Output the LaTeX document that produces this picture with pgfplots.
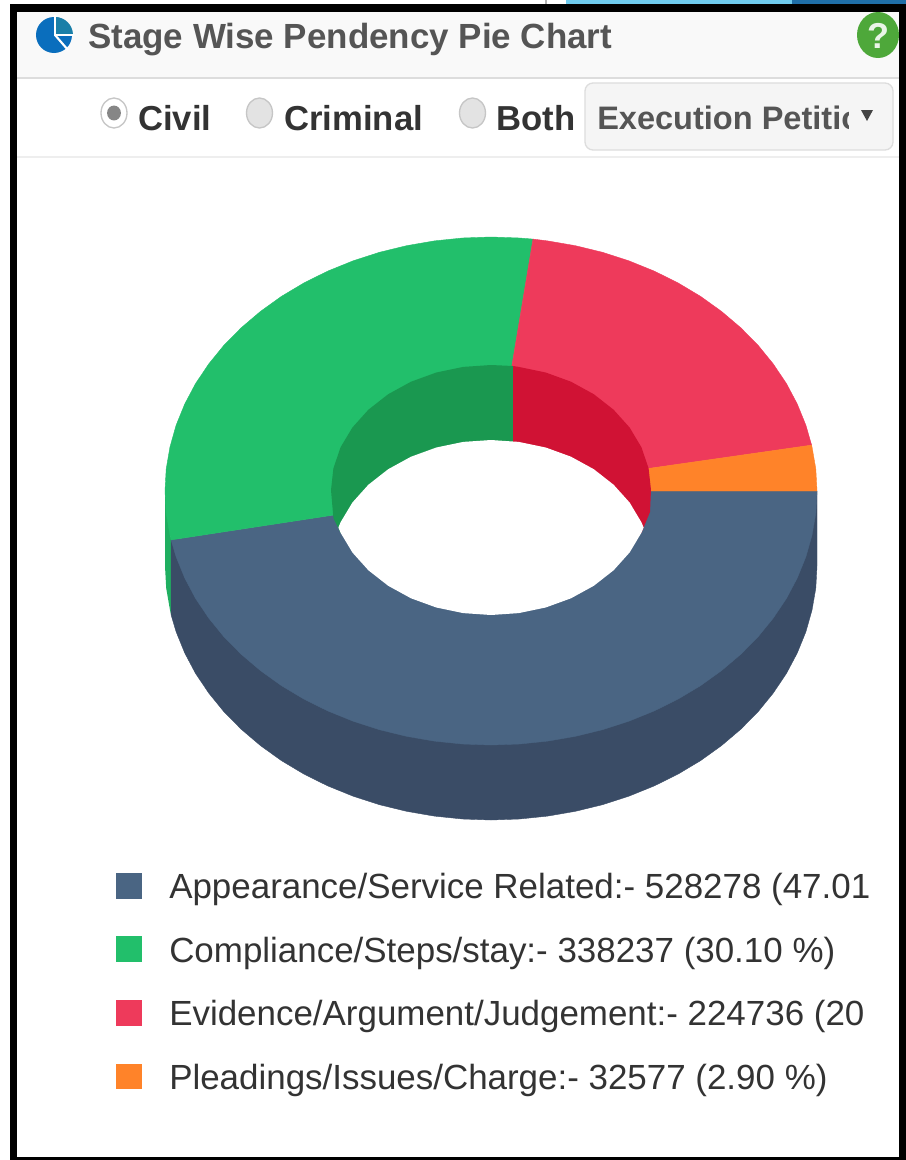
\documentclass[border=0pt]{standalone}
\usepackage{fontspec}
\setmainfont{Liberation Sans}
\usepackage{pgfplots}
\pgfplotsset{compat=1.18}
\definecolor{cblue}{HTML}{4A6583}
\definecolor{cbluew}{HTML}{3A4C66}
\definecolor{cgreen}{HTML}{22BF6B}
\definecolor{cgreenw}{HTML}{1A9850}
\definecolor{cred}{HTML}{EE3A5B}
\definecolor{credw}{HTML}{D01234}
\definecolor{corange}{HTML}{FF8329}
\definecolor{ctxt}{HTML}{333333}
\definecolor{ctitle}{HTML}{555555}
\definecolor{stripa}{HTML}{6FCBEE}
\definecolor{stripb}{HTML}{1F6FA8}
\definecolor{headbg}{HTML}{F9F9F9}
\definecolor{linea}{HTML}{DDDDDD}
\definecolor{lineb}{HTML}{EEEEEE}
\definecolor{iconblue}{HTML}{0A6EBD}
\definecolor{iconteal}{HTML}{1A7FA8}
\definecolor{helpgreen}{HTML}{4EA83A}
\definecolor{dropbg}{HTML}{F5F5F5}
\definecolor{arrowc}{HTML}{444444}
\newcommand{\fs}[1]{\fontsize{#1}{#1}\selectfont}
\tikzset{
  lt/.style={anchor=base west, inner sep=0pt, text=ctxt, font=\fs{26.2}},
  rd/.style={draw=gray!45, fill=gray!22, line width=1pt},
  rt/.style={anchor=base west, inner sep=0pt, text=ctxt, font=\bfseries\fs{26}},
}
\begin{document}
\begin{tikzpicture}
\begin{axis}[
  scale only axis, width=679.5pt, height=870pt,
  xmin=0, xmax=906, ymin=0, ymax=1160, y dir=reverse,
  hide axis, clip=false,
  every axis plot/.append style={forget plot, mark=none},
]
% page furniture
\fill[white] (axis cs:0,0) rectangle (axis cs:906,1160);
\fill[gray!60] (axis cs:545,0) rectangle (axis cs:547,4);
\fill[stripa] (axis cs:566,0) rectangle (axis cs:792,4);
\fill[stripb] (axis cs:792,0) rectangle (axis cs:906,4);
\fill[headbg] (axis cs:17,12) rectangle (axis cs:899,78);
\draw[linea, line width=1pt] (axis cs:17,78) -- (axis cs:899,78);
\draw[lineb, line width=1pt] (axis cs:17,157) -- (axis cs:899,157);

% side wall
\addplot[fill=cgreenw!40!cgreen, draw=none] coordinates {(171.1,539.9)(171.1,614.9)(170,610.1)(166.2,588.1)(165,566)(165,491)} -- cycle;
\addplot[fill=cbluew, draw=cbluew, line width=0.3pt] coordinates {
(817,491)(817,566)(815.8,588.1)(812,610.1)(805.9,631.7)(797.3,652.9)(786.5,673.3)(773.3,693)(758.1,711.7)(740.7,729.3)(721.5,745.6)(700.6,760.6)(678,774.1)(654,786)(628.8,796.2)(602.5,804.7)(575.4,811.3)(547.6,816.1)(519.4,819)(491,820)(462.6,819)(434.4,816.1)(406.6,811.3)(379.5,804.7)(353.2,796.2)(328,786)(304,774.1)(281.4,760.6)(260.5,745.6)(241.3,729.3)(223.9,711.7)(208.7,693)(195.5,673.3)(184.7,652.9)(176.1,631.7)(171.1,614.9)(171.1,539.9)} -- cycle;

% top surface: 528278
\addplot[fill=cblue, draw=cblue, line width=0.3pt] coordinates {
(491,491)(817,491)(815.8,513.1)(812,535.1)(805.9,556.7)(797.3,577.9)(786.5,598.3)(773.3,618)(758.1,636.7)(740.7,654.3)(721.5,670.6)(700.6,685.6)(678,699.1)(654,711)(628.8,721.2)(602.5,729.7)(575.4,736.3)(547.6,741.1)(519.4,744)(491,745)(462.6,744)(434.4,741.1)(406.6,736.3)(379.5,729.7)(353.2,721.2)(328,711)(304,699.1)(281.4,685.6)(260.5,670.6)(241.3,654.3)(223.9,636.7)(208.7,618)(195.5,598.3)(184.7,577.9)(176.1,556.7)(171.1,539.9)} -- cycle;
% 338237
\addplot[fill=cgreen, draw=cgreen, line width=0.3pt] coordinates {
(491,491)(171.1,539.9)(170,535.1)(166.2,513.1)(165,491)(166.2,468.9)(170,446.9)(176.1,425.3)(184.7,404.1)(195.5,383.7)(208.7,364)(223.9,345.3)(241.3,327.7)(260.5,311.4)(281.4,296.4)(304,282.9)(328,271)(353.2,260.8)(379.5,252.3)(406.6,245.7)(434.4,240.9)(462.6,238)(491,237)(519.4,238)(533,239.1)} -- cycle;
% 224736
\addplot[fill=cred, draw=cred, line width=0.3pt] coordinates {
(491,491)(533,239.1)(547.6,240.9)(575.4,245.7)(602.5,252.3)(628.8,260.8)(654,271)(678,282.9)(700.6,296.4)(721.5,311.4)(740.7,327.7)(758.1,345.3)(773.3,364)(786.5,383.7)(797.3,404.1)(805.9,425.3)(811.6,445.1)} -- cycle;
% 32577
\addplot[fill=corange, draw=corange, line width=0.3pt] coordinates {
(491,491)(811.6,445.1)(812,446.9)(815.8,468.9)(817,491)} -- cycle;

% inner wall
\addplot[fill=cgreenw, draw=none] coordinates {
(513,366)(491,365)(463.2,366.9)(436.3,372.5)(411,381.7)(388.2,394.2)(368.4,409.7)(352.4,427.5)(340.6,447.2)(333.4,468.3)(331,490)(333.4,518)(340.6,532.8)(491,600)(513,450)} -- cycle;
\addplot[fill=credw, draw=none] coordinates {
(513,366)(518.8,366.9)(545.7,372.5)(571,381.7)(593.8,394.2)(613.6,409.7)(629.6,427.5)(641.4,447.2)(648.6,468.3)(651,490)(650,512)(641.4,532.8)(491,600)(513,450)} -- cycle;
% hole
\addplot[fill=white, draw=none] coordinates {
(338.4,527.5)(340.6,522.2)(352.4,502.5)(368.4,484.7)(388.2,469.2)(411,456.7)(436.3,447.5)(463.2,441.9)(491,440)(518.8,441.9)(545.7,447.5)(571,456.7)(593.8,469.2)(613.6,484.7)(629.6,502.5)(641.4,522.2)(643.6,527.5)(641.4,532.8)(629.6,552.5)(613.6,570.3)(593.8,585.8)(571,598.3)(545.7,607.5)(518.8,613.1)(491,615)(463.2,613.1)(436.3,607.5)(411,598.3)(388.2,585.8)(368.4,570.3)(352.4,552.5)(340.6,532.8)} -- cycle;

% legend keys
\addplot[fill=cblue, draw=none] coordinates {(116,873)(142,873)(142,899)(116,899)} -- cycle;
\addplot[fill=cgreen, draw=none] coordinates {(116,936)(142,936)(142,962)(116,962)} -- cycle;
\addplot[fill=cred, draw=none] coordinates {(116,1000)(142,1000)(142,1026)(116,1026)} -- cycle;
\addplot[fill=corange, draw=none] coordinates {(116,1064)(142,1064)(142,1089)(116,1089)} -- cycle;

% legend text
\node[lt] at (axis cs:169,898) {Appearance/Service Related:- 528278 (47.01};
\node[lt] at (axis cs:169,962) {Compliance/Steps/stay:- 338237 (30.10 \%)};
\node[lt] at (axis cs:169,1025) {Evidence/Argument/Judgement:- 224736 (20};
\node[lt] at (axis cs:169,1089) {Pleadings/Issues/Charge:- 32577 (2.90 \%)};

% header
\fill[iconblue] (axis cs:54,35) circle[radius=13.5pt];
\fill[iconteal] (axis cs:55,35) -- (axis cs:55,17) arc[start angle=90, end angle=0, radius=13.5pt] -- cycle;
\draw[white, line width=1.6pt] (axis cs:55,15) -- (axis cs:55,35) -- (axis cs:74,35);
\draw[white, line width=1.6pt] (axis cs:55,35) -- (axis cs:68,50);
\fill[helpgreen] (axis cs:878,35) ellipse[x radius=15.75pt, y radius=17.25pt];
\node[text=white!88!helpgreen, font=\bfseries\fs{27}, inner sep=0pt] at (axis cs:878,36) {?};
\node[anchor=base west, inner sep=0pt, text=ctitle, font=\bfseries\fs{26.2}] at (axis cs:88,48) {Stage Wise Pendency Pie Chart};

% radios
\draw[rd,fill=white] (axis cs:114,113) ellipse[x radius=9.75pt, y radius=11.25pt];
\fill[gray!95] (axis cs:114,113) ellipse[x radius=5.2pt, y radius=5.6pt];
\draw[rd] (axis cs:259.5,113) ellipse[x radius=9.75pt, y radius=11.25pt];
\draw[rd] (axis cs:472.5,113) ellipse[x radius=9.75pt, y radius=11.25pt];
\node[rt] at (axis cs:138,130) {Civil};
\node[rt] at (axis cs:284,130) {Criminal};
\node[rt] at (axis cs:496,130) {Both};

% dropdown
\draw[linea, fill=dropbg, line width=1pt, rounded corners=6pt] (axis cs:585,83) rectangle (axis cs:893,150);
\begin{scope}
\clip (axis cs:590,90) rectangle (axis cs:848,145);
\node[anchor=base west, inner sep=0pt, text=ctitle, font=\bfseries\fs{24.4}] at (axis cs:597,129) {Execution Petition};
\end{scope}
\fill[arrowc] (axis cs:861,110) -- (axis cs:873,110) -- (axis cs:867,121) -- cycle;

% frame
\fill[black] (axis cs:10,4) rectangle (axis cs:906,12);
\fill[black] (axis cs:10,4) rectangle (axis cs:17,1160);
\fill[black] (axis cs:899,4) rectangle (axis cs:906,1160);
\fill[black] (axis cs:10,1157) rectangle (axis cs:906,1160);
\end{axis}
\end{tikzpicture}
\end{document}
